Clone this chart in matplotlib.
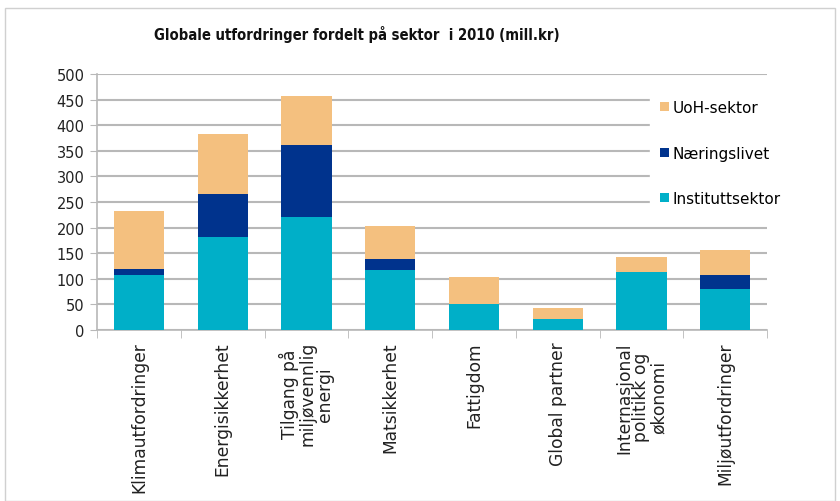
import matplotlib
matplotlib.use("Agg")
import matplotlib.pyplot as plt
import numpy as np
from matplotlib.patches import Rectangle

categories = ["Klimautfordringer", "Energisikkerhet", "Tilgang på\nmiljøvennlig\nenergi",
              "Matsikkerhet", "Fattigdom", "Global partner",
              "Internasjonal\npolitikk og\nøkonomi", "Miljøutfordringer"]
institutt = [108, 182, 221, 117, 51, 22, 114, 81]
naering = [12, 83, 141, 21, 0, 0, 0, 26]
uoh = [112, 118, 96, 66, 53, 20, 28, 50]
series_names = ["Instituttsektor", "Næringslivet", "UoH-sektor"]
colors = ["#00AFC8", "#00338D", "#F4C07F"]
yticks = [0, 50, 100, 150, 200, 250, 300, 350, 400, 450, 500]

fig = plt.figure(figsize=(8.4, 5.02), dpi=100)
fig.patches.append(Rectangle((5/840, 0), 830/840, 1 - 9/502, transform=fig.transFigure,
                             fill=False, edgecolor="#D0D0D0", linewidth=1))
ax = fig.add_axes([97/840, 1 - 331/502, 670/840, 256/502])

x = np.arange(len(categories))
bottom = np.zeros(len(categories))
handles = []
for vals, name, c in zip([institutt, naering, uoh], series_names, colors):
    h = ax.bar(x, vals, width=0.6, bottom=bottom, color=c, label=name, zorder=3)
    handles.append(h)
    bottom += np.array(vals)

ax.set_xlim(-0.5, len(categories) - 0.5)
ax.set_ylim(0, 500)
ax.set_yticks(yticks)
ax.set_yticklabels([str(v) for v in yticks], fontsize=10.5, color="#222222")
ax.yaxis.grid(True, color="#B8B8B8", linewidth=1.5, zorder=0)
ax.set_axisbelow(True)
for s in ["top", "right"]:
    ax.spines[s].set_visible(False)
ax.spines["left"].set_color("#B8B8B8")
ax.spines["bottom"].set_color("#B8B8B8")
ax.spines["left"].set_linewidth(1.2)
ax.spines["bottom"].set_linewidth(1.2)
ax.tick_params(axis="y", length=5, color="#B8B8B8", pad=4)

ax.set_xticks(x)
ax.set_xticklabels(categories, rotation=90, fontsize=12.3, va="top", ha="center",
                   multialignment="center", color="#222222", linespacing=0.95)
ax.tick_params(axis="x", length=0, pad=8)
ax.set_xticks(np.arange(len(categories) + 1) - 0.5, minor=True)
ax.tick_params(axis="x", which="minor", length=6, color="#B8B8B8")

leg = ax.legend(handles[::-1], series_names[::-1], loc="upper left",
                bbox_to_anchor=(0.825, 0.94), frameon=True, fontsize=11,
                handlelength=0.55, handleheight=0.55, handletextpad=0.25,
                labelspacing=2.0, borderpad=0.7, borderaxespad=0)
leg.get_frame().set_facecolor("white")
leg.get_frame().set_edgecolor("white")
leg.get_frame().set_alpha(1)
leg.set_zorder(5)

fig.text(357/840, 1 - 35/502, "Globale utfordringer fordelt på sektor  i 2010 (mill.kr)",
         ha="center", va="center", fontsize=10.6, fontweight="bold", color="#111111",
         fontstretch="condensed", family="Liberation Sans Narrow")

fig.savefig("out.png", dpi=100)
